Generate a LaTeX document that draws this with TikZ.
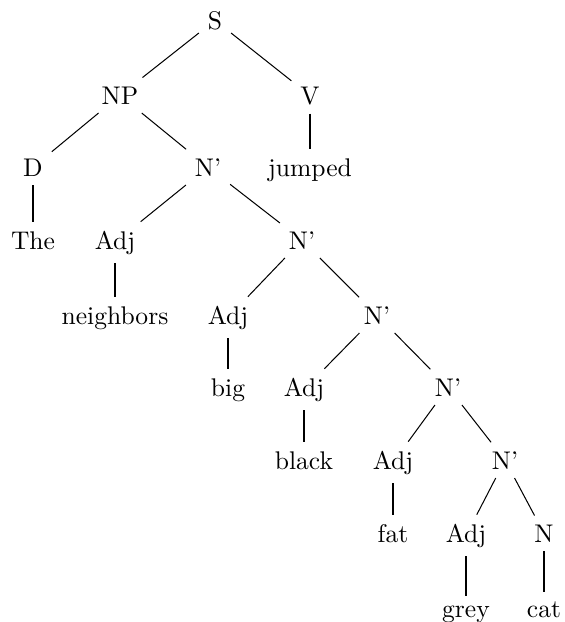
\documentclass[tikz,border=0pt]{standalone}
\begin{document}
\begin{tikzpicture}[x=0.3915pt,y=-0.3915pt,
  lbl/.style={anchor=base,font=\fontsize{10}{12}\selectfont},
  edge/.style={draw=black,line width=0.4pt}]
\useasboundingbox (0,0) rectangle (564,622);
\node[lbl] (S) at (215,29) {S};
\node[lbl] (NP) at (120,104) {NP};
\node[lbl] (V) at (310,104) {V};
\node[lbl] (D) at (33,176) {D};
\node[lbl] (N1) at (208,176) {N'};
\node[lbl] (jumped) at (310,176) {jumped};
\node[lbl] (The) at (33,249) {The};
\node[lbl] (A1) at (115,249) {Adj};
\node[lbl] (N2) at (302,249) {N'};
\node[lbl] (neighbors) at (115,324) {neighbors};
\node[lbl] (A2) at (228,324) {Adj};
\node[lbl] (N3) at (377,324) {N'};
\node[lbl] (big) at (228,396) {big};
\node[lbl] (A3) at (304,396) {Adj};
\node[lbl] (N4) at (448,396) {N'};
\node[lbl] (black) at (304,469) {black};
\node[lbl] (A4) at (393,469) {Adj};
\node[lbl] (N5) at (505,469) {N'};
\node[lbl] (fat) at (393,542) {fat};
\node[lbl] (A5) at (466,542) {Adj};
\node[lbl] (N) at (544,542) {N};
\node[lbl] (grey) at (466,617) {grey};
\node[lbl] (cat) at (544,617) {cat};
\draw[edge] (S) -- (NP);
\draw[edge] (S) -- (V);
\draw[edge] (NP) -- (D);
\draw[edge] (NP) -- (N1);
\draw[edge] (V) -- (jumped);
\draw[edge] (D) -- (The);
\draw[edge] (N1) -- (A1);
\draw[edge] (N1) -- (N2);
\draw[edge] (A1) -- (neighbors);
\draw[edge] (N2) -- (A2);
\draw[edge] (N2) -- (N3);
\draw[edge] (A2) -- (big);
\draw[edge] (N3) -- (A3);
\draw[edge] (N3) -- (N4);
\draw[edge] (A3) -- (black);
\draw[edge] (N4) -- (A4);
\draw[edge] (N4) -- (N5);
\draw[edge] (A4) -- (fat);
\draw[edge] (N5) -- (A5);
\draw[edge] (N5) -- (N);
\draw[edge] (A5) -- (grey);
\draw[edge] (N) -- (cat);
\end{tikzpicture}
\end{document}
